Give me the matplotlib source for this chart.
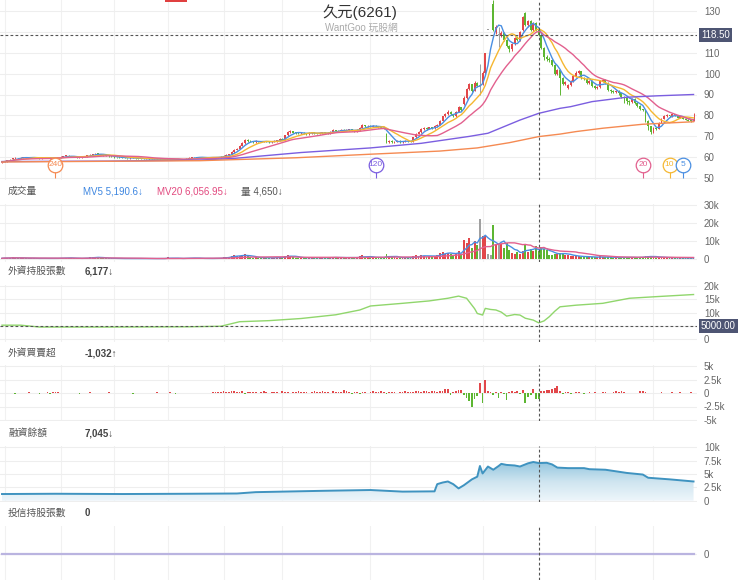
import numpy as np
import pandas as pd
import matplotlib
matplotlib.use('Agg')
import matplotlib.pyplot as plt
from matplotlib.colors import LinearSegmentedColormap
from matplotlib.patches import Rectangle

# daily candles, oldest first (260 trading days)
OPEN = [
    57.6, 57.9, 58.2, 58.5, 59.0, 59.5, 59.8, 59.6, 59.9, 60.1,
    59.9, 59.7, 59.9, 60.0, 59.8, 59.6, 59.7, 59.8, 59.9, 59.6,
    59.5, 59.7, 60.0, 60.3, 60.6, 60.8, 60.5, 60.3, 60.2, 60.0,
    60.1, 60.3, 60.6, 60.9, 61.2, 61.5, 61.8, 61.6, 61.3, 61.0,
    60.7, 60.5, 60.3, 60.1, 60.0, 59.9, 59.8, 59.7, 59.6, 59.8,
    59.7, 59.5, 59.4, 59.3, 59.2, 59.3, 59.1, 59.0, 59.2, 59.3,
    59.1, 59.0, 58.9, 59.5, 59.0, 58.8, 58.9, 59.1, 58.7, 58.8,
    59.4, 59.8, 60.1, 60.0, 59.9, 60.1, 60.0, 59.8, 59.7, 59.9,
    60.1, 60.2, 60.0, 60.3, 60.8, 61.2, 61.5, 62.5, 63.6, 64.2,
    65.6, 66.8, 68.5, 67.8, 67.6, 67.3, 67.8, 67.5, 67.4, 67.7,
    67.6, 67.2, 67.5, 67.8, 68.2, 68.8, 68.5, 70.5, 72.0, 72.4,
    71.8, 71.6, 71.4, 71.8, 71.5, 71.2, 71.6, 71.9, 71.5, 71.3,
    71.6, 72.0, 71.7, 71.5, 72.3, 72.9, 72.5, 72.8, 73.2, 72.7,
    73.0, 73.3, 72.9, 72.6, 73.0, 74.2, 75.3, 74.8, 75.0, 74.6,
    75.2, 74.8, 74.5, 74.2, 71.0, 67.4, 67.8, 67.2, 67.5, 67.9,
    67.4, 67.6, 68.0, 67.7, 67.5, 69.5, 71.3, 72.0, 73.4, 74.0,
    73.5, 74.3, 73.9, 75.0, 75.6, 77.5, 79.5, 80.6, 81.8, 80.5,
    79.6, 81.8, 83.8, 85.5, 88.5, 92.5, 94.8, 91.8, 95.5, 94.0,
    95.0, 100.5, 121.0, 133.0, 133.0, 120.0, 118.5, 118.0, 119.5, 116.0,
    113.0, 111.5, 114.0, 117.0, 116.0, 121.0, 129.0, 123.0, 125.0, 121.0,
    124.0, 121.0, 118.5, 112.0, 108.0, 107.0, 106.5, 104.0, 100.0, 101.5,
    98.0, 95.0, 93.0, 94.5, 96.5, 99.0, 100.5, 101.0, 98.0, 97.5,
    95.5, 96.5, 94.0, 93.0, 93.5, 96.5, 97.0, 95.5, 92.0, 91.5,
    91.0, 91.8, 90.5, 89.0, 88.5, 87.0, 86.5, 88.0, 86.0, 84.5,
    83.0, 82.5, 77.5, 75.0, 72.0, 74.0, 73.5, 76.5, 78.5, 79.5,
    80.0, 79.5, 80.5, 80.0, 79.0, 79.5, 78.5, 78.0, 77.5, 77.3,
]
HIGH = [
    58.0, 58.3, 58.6, 59.1, 59.7, 60.0, 59.9, 60.1, 60.4, 60.2,
    60.0, 60.0, 60.2, 60.1, 59.9, 59.9, 60.0, 60.1, 60.0, 59.8,
    59.9, 60.1, 60.5, 60.8, 61.0, 61.0, 60.7, 60.5, 60.4, 60.3,
    60.5, 60.8, 61.1, 61.4, 61.8, 62.1, 62.0, 61.8, 61.5, 61.2,
    60.9, 60.7, 60.5, 60.3, 60.2, 60.1, 60.0, 59.9, 60.0, 60.0,
    59.8, 59.7, 59.6, 59.5, 59.5, 59.5, 59.3, 59.4, 59.5, 59.5,
    59.3, 59.2, 59.9, 59.7, 59.2, 59.1, 59.3, 59.3, 59.0, 59.6,
    60.0, 60.3, 60.3, 60.2, 60.3, 60.3, 60.2, 60.0, 60.1, 60.3,
    60.4, 60.4, 60.5, 61.0, 61.5, 61.8, 62.8, 63.9, 64.6, 65.9,
    67.2, 68.7, 68.9, 68.2, 67.9, 68.1, 68.0, 67.8, 68.0, 68.0,
    67.9, 67.8, 68.1, 68.5, 69.2, 69.1, 70.8, 72.5, 72.9, 72.6,
    72.0, 71.9, 72.1, 72.0, 71.7, 71.9, 72.2, 72.1, 71.8, 71.9,
    72.3, 72.2, 71.9, 72.6, 73.3, 73.2, 73.1, 73.6, 73.4, 73.3,
    73.7, 73.5, 73.2, 73.3, 74.6, 75.8, 75.6, 75.4, 75.3, 75.6,
    75.5, 75.1, 74.8, 74.5, 71.8, 68.5, 68.1, 67.8, 68.3, 68.2,
    67.9, 68.3, 68.3, 68.0, 69.9, 71.7, 72.4, 73.8, 74.4, 74.3,
    74.6, 74.6, 75.3, 76.0, 77.9, 79.9, 81.0, 82.5, 82.2, 80.8,
    82.2, 84.3, 84.2, 89.2, 93.3, 95.6, 95.0, 96.4, 96.2, 104.5,
    101.0, 110.0, 121.0, 133.0, 135.0, 123.0, 122.0, 120.5, 120.0, 116.5,
    113.5, 114.5, 117.5, 118.0, 120.5, 127.5, 129.5, 125.5, 125.5, 124.5,
    124.5, 121.5, 119.0, 112.5, 109.0, 108.0, 107.0, 104.5, 102.0, 101.8,
    98.5, 96.5, 95.0, 97.0, 99.5, 101.0, 101.8, 101.2, 98.5, 97.8,
    96.8, 96.8, 94.5, 94.0, 97.0, 97.5, 97.3, 95.8, 92.5, 92.0,
    92.0, 92.0, 90.8, 89.3, 88.8, 87.3, 88.3, 88.3, 86.3, 84.8,
    83.3, 82.8, 77.8, 75.2, 74.5, 74.3, 76.8, 78.8, 80.0, 80.5,
    80.3, 80.8, 80.8, 80.3, 79.8, 79.7, 78.8, 78.3, 77.8, 81.0,
]
LOW = [
    57.4, 57.7, 58.0, 58.3, 58.8, 59.3, 59.4, 59.4, 59.7, 59.6,
    59.5, 59.5, 59.7, 59.6, 59.4, 59.4, 59.5, 59.6, 59.4, 59.3,
    59.3, 59.5, 59.8, 60.1, 60.4, 60.3, 60.1, 60.0, 59.8, 59.8,
    59.9, 60.1, 60.4, 60.7, 61.0, 61.3, 61.4, 61.1, 60.8, 60.5,
    60.3, 60.1, 59.9, 59.8, 59.7, 59.6, 59.5, 59.4, 59.4, 59.5,
    59.3, 59.2, 59.1, 59.0, 59.0, 58.9, 58.8, 58.8, 59.0, 58.9,
    58.8, 58.7, 58.7, 58.8, 58.6, 58.6, 58.7, 58.5, 58.5, 58.6,
    59.2, 59.6, 59.8, 59.7, 59.7, 59.8, 59.6, 59.5, 59.5, 59.7,
    59.9, 59.8, 59.8, 60.1, 60.6, 61.0, 61.3, 62.2, 63.3, 63.9,
    65.3, 66.5, 67.4, 67.3, 67.0, 67.0, 67.2, 67.1, 67.1, 67.2,
    66.9, 66.9, 67.2, 67.5, 68.0, 68.2, 68.2, 70.2, 71.7, 71.5,
    71.3, 71.0, 71.1, 71.2, 70.9, 70.9, 71.3, 71.2, 71.0, 71.0,
    71.3, 71.4, 71.2, 71.3, 72.0, 72.2, 72.2, 72.5, 72.4, 72.4,
    72.8, 72.6, 72.3, 72.3, 72.8, 74.0, 74.5, 74.5, 74.3, 74.3,
    74.5, 74.1, 73.9, 73.5, 66.9, 67.0, 66.8, 66.9, 67.1, 67.0,
    67.0, 67.3, 67.3, 67.2, 67.3, 69.2, 71.0, 71.7, 73.0, 73.2,
    73.3, 73.6, 73.6, 74.7, 75.3, 77.2, 79.1, 80.2, 80.2, 79.3,
    79.4, 81.5, 82.0, 85.0, 88.0, 92.0, 91.2, 91.5, 93.5, 90.0,
    94.5, 100.0, 121.0, 133.0, 120.5, 119.0, 112.6, 117.5, 115.5, 112.5,
    110.5, 111.0, 113.5, 115.5, 115.5, 120.5, 122.5, 122.0, 120.5, 120.5,
    120.5, 118.0, 111.5, 106.5, 106.0, 105.5, 103.5, 99.5, 99.5, 89.8,
    94.5, 94.5, 92.5, 94.0, 96.0, 98.5, 100.0, 97.5, 96.8, 95.0,
    95.0, 93.5, 92.5, 92.5, 93.0, 96.0, 95.0, 91.5, 90.8, 90.5,
    90.5, 90.0, 88.5, 86.0, 85.5, 85.0, 86.0, 85.5, 84.0, 82.5,
    82.0, 77.0, 73.0, 71.0, 71.5, 73.0, 73.3, 76.2, 78.3, 79.3,
    79.2, 79.3, 79.8, 78.8, 78.8, 78.3, 77.8, 77.3, 77.0, 77.2,
]
CLOSE = [
    57.8, 58.1, 58.4, 58.9, 59.5, 59.8, 59.6, 59.9, 60.2, 59.8,
    59.7, 59.9, 60.0, 59.8, 59.6, 59.7, 59.8, 59.9, 59.6, 59.5,
    59.7, 59.9, 60.3, 60.6, 60.8, 60.5, 60.3, 60.2, 60.0, 60.1,
    60.3, 60.6, 60.9, 61.2, 61.5, 61.8, 61.6, 61.3, 61.0, 60.7,
    60.5, 60.3, 60.1, 60.0, 59.9, 59.8, 59.7, 59.6, 59.8, 59.7,
    59.5, 59.4, 59.3, 59.2, 59.3, 59.1, 59.0, 59.2, 59.3, 59.1,
    59.0, 58.9, 59.6, 59.0, 58.8, 58.9, 59.1, 58.7, 58.8, 59.4,
    59.8, 60.1, 60.0, 59.9, 60.1, 60.0, 59.8, 59.7, 59.9, 60.1,
    60.2, 60.0, 60.3, 60.8, 61.2, 61.5, 62.5, 63.6, 64.2, 65.6,
    66.8, 68.3, 67.8, 67.6, 67.3, 67.8, 67.5, 67.4, 67.7, 67.6,
    67.2, 67.5, 67.8, 68.2, 68.8, 68.5, 70.5, 72.0, 72.4, 71.8,
    71.6, 71.4, 71.8, 71.5, 71.2, 71.6, 71.9, 71.5, 71.3, 71.6,
    72.0, 71.7, 71.5, 72.3, 72.9, 72.5, 72.8, 73.2, 72.7, 73.0,
    73.3, 72.9, 72.6, 73.0, 74.2, 75.3, 74.8, 75.0, 74.6, 75.2,
    74.8, 74.5, 74.2, 73.9, 67.4, 67.8, 67.2, 67.5, 67.9, 67.4,
    67.6, 68.0, 67.7, 67.5, 69.5, 71.3, 72.0, 73.4, 74.0, 73.5,
    74.3, 73.9, 75.0, 75.6, 77.5, 79.5, 80.6, 81.8, 80.5, 79.6,
    81.8, 83.8, 82.5, 88.5, 92.5, 94.8, 91.8, 95.5, 94.0, 94.0,
    100.5, 110.0, 121.0, 133.0, 121.0, 122.0, 118.5, 119.5, 116.0, 113.0,
    111.5, 114.0, 117.0, 116.0, 120.0, 127.0, 123.0, 125.0, 121.0, 124.0,
    121.0, 118.5, 112.0, 108.0, 107.0, 106.5, 104.0, 100.0, 101.5, 98.0,
    95.0, 96.0, 94.5, 96.5, 99.0, 100.5, 101.0, 98.0, 97.5, 95.5,
    96.5, 94.0, 93.0, 93.5, 96.5, 97.0, 95.5, 92.0, 91.5, 91.0,
    91.8, 90.5, 89.0, 88.5, 87.0, 86.5, 88.0, 86.0, 84.5, 83.0,
    82.5, 77.5, 75.0, 72.0, 74.0, 73.5, 76.5, 78.5, 79.5, 80.0,
    79.5, 80.5, 80.0, 79.0, 79.5, 78.5, 78.0, 77.5, 77.3, 78.3,
]
VOLUME = [
    400, 600, 500, 700, 900, 500, 400, 600, 700, 400,
    300, 400, 500, 300, 300, 400, 350, 300, 400, 300,
    350, 450, 600, 800, 700, 500, 400, 350, 300, 350,
    400, 500, 700, 900, 1000, 1200, 700, 500, 500, 400,
    400, 350, 300, 300, 250, 300, 250, 250, 300, 250,
    300, 250, 250, 200, 250, 300, 250, 200, 250, 300,
    250, 300, 900, 500, 300, 250, 300, 400, 300, 600,
    700, 600, 400, 350, 400, 300, 300, 250, 300, 400,
    400, 350, 500, 900, 1200, 1100, 1800, 2200, 1500, 1900,
    2000, 2600, 1600, 1000, 800, 900, 700, 600, 700, 600,
    700, 600, 700, 900, 1100, 900, 1800, 2400, 1500, 1000,
    800, 700, 800, 700, 600, 700, 800, 700, 600, 700,
    800, 700, 600, 900, 1100, 800, 700, 900, 700, 800,
    900, 800, 700, 700, 1500, 2000, 1200, 900, 1000, 900,
    800, 800, 700, 800, 2800, 1500, 1000, 900, 800, 700,
    700, 800, 700, 600, 1500, 2000, 1500, 2000, 1800, 1300,
    1500, 1300, 1800, 2200, 3500, 3800, 3000, 3600, 2800, 2500,
    3200, 4500, 3000, 10500, 9000, 11500, 6000, 10000, 8000, 22000,
    13000, 13000, 3000, 2500, 19000, 8500, 8000, 8500, 6000, 9000,
    5000, 3500, 3000, 4000, 3000, 4500, 8500, 4000, 5500, 4500,
    7000, 4650, 6500, 5500, 5000, 2000, 2500, 3000, 3000, 3500,
    3000, 2500, 2000, 1800, 1500, 1600, 1400, 1200, 1300, 1100,
    1000, 1200, 1100, 900, 1400, 1000, 900, 1100, 1000, 800,
    700, 800, 900, 1200, 900, 800, 700, 900, 1000, 1100,
    900, 1800, 1500, 1600, 1000, 800, 900, 1000, 800, 700,
    600, 700, 600, 500, 600, 500, 500, 400, 600, 900,
]
FOREIGN_NET = [
    0, 0, 0, 0, 0, -200, 0, 0, 0, 0,
    150, 0, 0, 0, -150, 0, 0, 200, -150, 250,
    150, 100, 0, 0, 0, 0, 0, 0, 0, -150,
    0, 0, 0, 150, 0, 0, 0, 0, 0, 0,
    150, 0, 0, 0, 0, 0, 0, 0, 0, -250,
    0, 0, 0, 0, 0, 0, 0, 0, 150, 0,
    0, 0, 0, 200, 0, -150, 0, 0, 0, 0,
    0, 0, 0, 0, 0, 0, 0, 0, 0, 150,
    200, 150, 250, 300, 200, 150, 300, 400, 200, 250,
    300, -200, 200, 150, 250, 200, 0, 150, 300, 200,
    0, 150, 250, 200, 0, 300, 200, 250, 0, 200,
    150, 300, 250, 200, 250, 0, 200, 300, 250, 200,
    300, 250, 200, 0, 300, 250, 200, 250, 600, 300,
    200, -200, 150, 200, -150, 250, 200, 0, 150, 300,
    250, 200, 300, 250, -250, 150, 200, 200, 0, 250,
    200, 300, 250, 150, 200, 300, 400, 250, 300, 350,
    200, 300, 400, 250, 350, 400, 700, 800, -300, 200,
    300, 600, 500, -400, -1000, -1500, -2500, -1200, -600, 1900,
    -1900, 2400, 400, 200, -300, 150, -1000, 250, -200, -1300,
    200, 300, 250, 400, -200, 500, -1900, -800, -300, 700,
    -1200, -1032, 300, 400, 500, 500, 700, 900, 1300, 400,
    -250, 200, 150, -200, 0, 150, 200, 0, -250, 0,
    200, 0, 150, 0, 0, 200, 150, 0, 0, 200,
    300, 250, 400, 200, 0, 0, 0, 0, 0, 300,
    400, 150, 0, 0, 0, 0, 0, 200, 0, 0,
    0, 150, 0, 0, 150, 0, 0, 0, 150, 0,
]

MA120_IDX = [0, 40, 74, 87, 112, 138, 157, 175, 182, 194, 201, 209, 213, 221, 234, 246, 259]
MA120_VAL = [58.0, 58.2, 58.7, 59.5, 62.3, 64.5, 66.7, 70.0, 71.5, 77.8, 81.0, 83.4, 84.2, 86.6, 88.7, 89.4, 90.0]
MA240_IDX = [0, 74, 110, 138, 164, 178, 190, 201, 209, 215, 225, 240, 259]
MA240_VAL = [57.8, 58.4, 59.8, 61.5, 63.0, 64.5, 67.0, 69.9, 71.1, 72.3, 73.9, 75.8, 77.0]

FH_IDX = [0, 7, 14, 40, 70, 82, 89, 100, 112, 125, 134, 138, 150, 160, 167, 171, 174, 175,
          177, 178, 180, 181, 183, 185, 187, 189, 192, 194, 196, 199, 201, 203, 205, 207,
          209, 215, 225, 235, 245, 259]
FH_VAL = [5300, 5300, 4600, 4600, 4700, 4900, 6600, 7000, 7800, 9200, 11000, 12500, 13500,
          14400, 15400, 16200, 15400, 14100, 11500, 9700, 9100, 11600, 11200, 11000, 10200,
          8700, 9300, 9100, 7900, 7200, 6177, 6900, 8500, 10500, 12200, 12800, 13500, 15400,
          16000, 16800]

MARGIN_IDX = [0, 20, 45, 70, 88, 95, 105, 120, 138, 150, 162, 163, 165, 167, 169, 171, 173,
              176, 178, 179, 180, 182, 184, 186, 187, 189, 192, 194, 197, 199, 201, 204, 206,
              208, 212, 218, 220, 226, 230, 234, 240, 242, 250, 259]
MARGIN_VAL = [1250, 1300, 1250, 1300, 1350, 1600, 1700, 1850, 2000, 1700, 1750, 3100, 3400,
              3600, 3100, 2300, 2900, 4000, 4500, 6500, 5100, 6400, 5800, 6500, 6900, 6700,
              6600, 6400, 7000, 7250, 7045, 7100, 6800, 6200, 6100, 6100, 5900, 5800, 5500,
              5200, 4900, 4300, 4000, 3600]

TRUST_IDX = [0, 259]
TRUST_VAL = [0, 0]

MONTH_START = [1, 22, 42, 62, 83, 105, 138, 180, 222, 244]
CURSOR = 201
CURSOR_PRICE = 118.5

W, H = 740, 580
BAR_PX = 2.67      # pixels per trading day
X0_PX = 2.0        # pixel x of the first bar
RIGHT_PX = 697     # right edge of the plotting area

RED, GREEN, GRAY = '#e2474a', '#5db632', '#a0a0a0'
C_MA5, C_MA10, C_MA20 = '#4a8fe2', '#f5b731', '#e2608e'
C_MA120, C_MA240 = '#7b5ee0', '#f58a52'

plt.rcParams['font.family'] = ['Liberation Sans', 'Noto Sans CJK TC', 'DejaVu Sans']

fig = plt.figure(figsize=(W / 100, H / 100), dpi=100)

n = len(CLOSE)
idx = np.arange(n)
o, h, l, c = map(np.array, (OPEN, HIGH, LOW, CLOSE))
candle_col = np.where(c > o, RED, np.where(c < o, GREEN, GRAY))


def ptext(x, y, s, **kw):
    kw.setdefault('va', 'center')
    return fig.text(x / W, 1 - y / H, s, **kw)


def panel(top, bottom, v1, y1, v2, y2, ticks, labels):
    # axes covering pixel rows top..bottom, with value v1 at pixel row y1 and v2 at y2
    ax = fig.add_axes([0, 1 - bottom / H, RIGHT_PX / W, (bottom - top) / H])
    k = (v2 - v1) / (y2 - y1)
    ax.set_ylim(v1 + (bottom - y1) * k, v1 + (top - y1) * k)
    ax.set_xlim(-X0_PX / BAR_PX, (RIGHT_PX - X0_PX) / BAR_PX)
    ax.patch.set_alpha(0)
    for s in ax.spines.values():
        s.set_visible(False)
    ax.set_xticks([])
    ax.yaxis.tick_right()
    ax.set_yticks(ticks)
    ax.set_yticklabels(labels)
    ax.tick_params(axis='y', length=0, pad=5, labelsize=7, labelcolor='#666666')
    ax.grid(axis='y', color='#eeeeee', lw=0.8)
    for m in MONTH_START:
        ax.axvline(m, color='#f1f1f1', lw=0.8, zorder=0)
    ax.axvline(CURSOR, color='#555555', lw=0.8, ls=(0, (2.5, 2)), zorder=8)
    return ax


# ---- price panel ----
# the 120 label sits under the cursor price tag, as in the source
price_ticks = list(range(50, 131, 10))
ax = panel(0, 180, 130, 10.7, 50, 178.3, price_ticks,
           ['' if v == 120 else str(v) for v in price_ticks])
ax.vlines(idx, l, h, colors=candle_col, lw=0.7, zorder=3)
ax.bar(idx, np.maximum(np.abs(c - o), 0.3), bottom=np.minimum(o, c), width=0.72,
       color=candle_col, lw=0, zorder=3)
close_s = pd.Series(c)
for period, colr in [(5, C_MA5), (10, C_MA10), (20, C_MA20)]:
    ax.plot(idx, close_s.rolling(period, min_periods=1).mean(), color=colr, lw=1, zorder=4)
ax.plot(MA120_IDX, MA120_VAL, color=C_MA120, lw=1, zorder=4)
ax.plot(MA240_IDX, MA240_VAL, color=C_MA240, lw=1, zorder=4)
ax.axhline(CURSOR_PRICE, color='#555555', lw=0.8, ls=(0, (2.5, 2)), zorder=8)

# moving average badges sit "period" bars back from the last bar
k_main = (50 - 130) / (178.3 - 10.7)
def main_val(ypx):
    return 130 + (ypx - 10.7) * k_main

for period, colr in [(240, C_MA240), (120, C_MA120), (20, C_MA20), (10, C_MA10), (5, C_MA5)]:
    xi = n - period
    ax.vlines(xi, main_val(178), main_val(171), color=colr, lw=0.8, zorder=6)
    ax.plot(xi, main_val(165), 'o', ms=10.5, mfc='white', mec=colr, mew=0.9, zorder=7)
    ax.text(xi, main_val(165), str(period), color=colr, fontsize=6, ha='center',
            va='center', zorder=8)

ptext(701, 35, '118.50', color='white', fontsize=7, ha='left',
      bbox=dict(boxstyle='square,pad=0.25', fc='#4e5573', ec='none'))
ptext(360, 12, '久元(6261)', ha='center', fontsize=11, color='#333333')
ptext(361, 28, 'WantGoo 玩股網', ha='center', fontsize=7, color='#aaaaaa')
fig.add_artist(Rectangle((165 / W, 1 - 2 / H), 22 / W, 2 / H, transform=fig.transFigure,
                         color='#e04040', lw=0))

# ---- volume ----
ax = panel(204, 262, 30000, 205, 0, 259, [0, 10000, 20000, 30000], ['0', '10k', '20k', '30k'])
ax.bar(idx, VOLUME, width=0.72, color=candle_col, lw=0, zorder=3)
vol_s = pd.Series(VOLUME, dtype=float)
ax.plot(idx, vol_s.rolling(5, min_periods=1).mean(), color=C_MA5, lw=1, zorder=4)
ax.plot(idx, vol_s.rolling(20, min_periods=1).mean(), color=C_MA20, lw=1, zorder=4)
ptext(8, 191, '成交量', fontsize=7, color='#555555')
ptext(83, 191, 'MV5 5,190.6↓', fontsize=7, color='#3d86e0')
ptext(157, 191, 'MV20 6,056.95↓', fontsize=7, color='#e2497f')
ptext(241, 191, '量 4,650↓', fontsize=7, color='#555555')

# ---- foreign holdings ----
ax = panel(285, 342, 20000, 286, 0, 339.3, [0, 5000, 10000, 15000, 20000],
           ['0', '', '10k', '15k', '20k'])
ax.plot(FH_IDX, FH_VAL, color='#90d66c', lw=1, zorder=4)
ax.axhline(5000, color='#555555', lw=0.8, ls=(0, (2.5, 2)), zorder=8)
ptext(701, 326, '5000.00', color='white', fontsize=7, ha='left',
      bbox=dict(boxstyle='square,pad=0.25', fc='#4e5573', ec='none'))
ptext(8, 271, '外資持股張數', fontsize=7, color='#555555')
ptext(85, 271, '6,177↓', fontsize=7, color='#444444', weight='bold')

# ---- foreign net buy ----
ax = panel(365, 421, 5000, 366, -5000, 420, [-5000, -2500, 0, 2500, 5000],
           ['-5k', '-2.5k', '0', '2.5k', '5k'])
net = np.array(FOREIGN_NET)
ax.bar(idx, net, width=0.65, color=np.where(net >= 0, RED, GREEN), lw=0, zorder=3)
ptext(8, 353, '外資買賣超', fontsize=7, color='#555555')
ptext(85, 353, '-1,032↑', fontsize=7, color='#444444', weight='bold')

# ---- margin balance ----
ax = panel(446, 502, 10000, 447.3, 0, 500.7, [0, 2500, 5000, 7500, 10000],
           ['0', '2.5k', '5k', '7.5k', '10k'])
ylim = ax.get_ylim()
area = ax.fill_between(MARGIN_IDX, MARGIN_VAL, 0, color='none', lw=0)
cmap = LinearSegmentedColormap.from_list('margin', ['#eef6fb', '#cfe5f0', '#94c6df'])
grad = ax.imshow(np.linspace(0, 1, 256).reshape(-1, 1), extent=[0, n - 1, 0, max(MARGIN_VAL)],
                 origin='lower', aspect='auto', cmap=cmap, zorder=2)
grad.set_clip_path(area.get_paths()[0], ax.transData)
ax.plot(MARGIN_IDX, MARGIN_VAL, color='#3f93c0', lw=1.4, zorder=4)
ax.set_xlim(-X0_PX / BAR_PX, (RIGHT_PX - X0_PX) / BAR_PX)
ax.set_ylim(ylim)
ptext(8, 433, '融資餘額', fontsize=7, color='#555555')
ptext(85, 433, '7,045↓', fontsize=7, color='#444444', weight='bold')

# ---- investment trust holdings ----
ax = panel(526, 580, 0, 554, 1, 534, [0], ['0'])
ax.plot(TRUST_IDX, TRUST_VAL, color='#bab4e0', lw=1.6, zorder=4)
ptext(8, 513, '投信持股張數', fontsize=7, color='#555555')
ptext(85, 513, '0', fontsize=7, color='#444444', weight='bold')

fig.savefig('out.png', dpi=100, facecolor='white')
